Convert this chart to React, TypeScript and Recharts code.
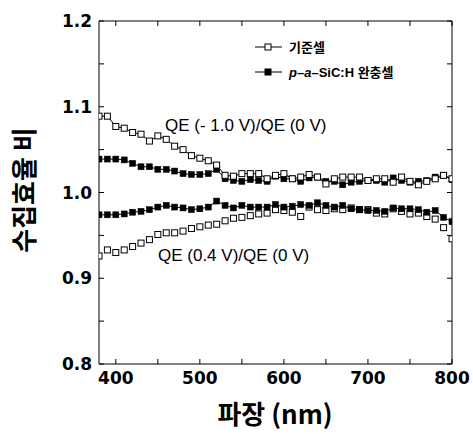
import React from 'react';
import { LineChart, Line, XAxis, YAxis } from 'recharts';

// wavelength grid (nm)
const wavelengths = [
  380, 390, 400, 410, 420, 430, 440, 450, 460, 470, 480, 490, 500, 510, 520,
  530, 540, 550, 560, 570, 580, 590, 600, 610, 620, 630, 640, 650, 660, 670,
  680, 690, 700, 710, 720, 730, 740, 750, 760, 770, 780, 790, 800,
];

// QE(-1.0 V)/QE(0 V), reference cell (open squares)
const refMinus = [
  1.089, 1.089, 1.077, 1.075, 1.070, 1.068, 1.060, 1.066, 1.062, 1.054, 1.050,
  1.043, 1.040, 1.037, 1.032, 1.020, 1.019, 1.022, 1.022, 1.022, 1.016, 1.020,
  1.022, 1.016, 1.018, 1.021, 1.018, 1.010, 1.016, 1.018, 1.018, 1.018, 1.014,
  1.016, 1.016, 1.012, 1.018, 1.013, 1.009, 1.013, 1.016, 1.020, 1.016,
];

// QE(-1.0 V)/QE(0 V), p-a-SiC:H buffer cell (filled squares)
const bufMinus = [
  1.039, 1.039, 1.039, 1.038, 1.034, 1.030, 1.030, 1.027, 1.027, 1.025, 1.022,
  1.021, 1.021, 1.022, 1.027, 1.016, 1.014, 1.013, 1.015, 1.014, 1.013, 1.019,
  1.016, 1.016, 1.013, 1.017, 1.018, 1.013, 1.013, 1.009, 1.012, 1.013, 1.014,
  1.014, 1.012, 1.017, 1.014, 1.012, 1.013, 1.014, 1.018, 1.020, 1.015,
];

// QE(0.4 V)/QE(0 V), p-a-SiC:H buffer cell (filled squares)
const bufPlus = [
  0.974, 0.974, 0.974, 0.975, 0.977, 0.978, 0.980, 0.983, 0.985, 0.983, 0.982,
  0.980, 0.981, 0.983, 0.990, 0.985, 0.982, 0.985, 0.983, 0.983, 0.983, 0.986,
  0.983, 0.984, 0.986, 0.985, 0.988, 0.985, 0.983, 0.985, 0.981, 0.980, 0.979,
  0.979, 0.978, 0.982, 0.981, 0.981, 0.980, 0.977, 0.979, 0.971, 0.966,
];

// QE(0.4 V)/QE(0 V), reference cell (open squares)
const refPlus = [
  0.926, 0.933, 0.930, 0.933, 0.937, 0.941, 0.945, 0.951, 0.953, 0.953, 0.955,
  0.958, 0.960, 0.962, 0.963, 0.967, 0.970, 0.971, 0.973, 0.975, 0.976, 0.980,
  0.979, 0.977, 0.972, 0.983, 0.980, 0.979, 0.981, 0.980, 0.982, 0.980, 0.980,
  0.976, 0.975, 0.981, 0.978, 0.975, 0.976, 0.972, 0.969, 0.959, 0.946,
];

const xTicks = [400, 450, 500, 550, 600, 650, 700, 750, 800];
const yTicks = [0.8, 0.85, 0.9, 0.95, 1.0, 1.05, 1.1, 1.15, 1.2];

const data = wavelengths.map((nm, i) => ({
  nm,
  refMinus: refMinus[i],
  bufMinus: bufMinus[i],
  bufPlus: bufPlus[i],
  refPlus: refPlus[i],
}));

const tickFont = {
  fill: '#000',
  fontSize: 17,
  fontWeight: 'bold' as const,
  fontFamily: 'DejaVu Sans',
};

const fmtX = (v: number) => (v % 100 === 0 ? String(v) : '');
const fmtY = (v: number) =>
  Math.abs(v * 10 - Math.round(v * 10)) < 1e-6 ? v.toFixed(1) : '';
const blank = () => '';

const OpenSquare = (props: any) => {
  const { cx, cy, index, dataKey } = props;
  if (cx == null || cy == null) return <g key={`${dataKey}-${index}`} />;
  return (
    <rect
      key={`${dataKey}-${index}`}
      x={cx - 3}
      y={cy - 3}
      width={6}
      height={6}
      fill="#fff"
      stroke="#000"
      strokeWidth={1}
    />
  );
};

const FilledSquare = (props: any) => {
  const { cx, cy, index, dataKey } = props;
  if (cx == null || cy == null) return <g key={`${dataKey}-${index}`} />;
  return (
    <rect
      key={`${dataKey}-${index}`}
      x={cx - 3}
      y={cy - 3}
      width={6}
      height={6}
      fill="#000"
      stroke="#000"
      strokeWidth={0.5}
    />
  );
};

const labelFont = 'Liberation Sans, Arial, sans-serif';
const koFont = '"Noto Sans CJK KR", sans-serif';

export default function App() {
  return (
    <div
      style={{
        position: 'absolute',
        left: 0,
        top: 0,
        width: 473,
        height: 434,
        background: '#fff',
      }}
    >
      <LineChart
        width={473}
        height={434}
        data={data}
        margin={{ top: 1, right: 1, bottom: 0, left: 0 }}
      >
        <XAxis
          xAxisId="b"
          dataKey="nm"
          type="number"
          domain={[380, 800]}
          ticks={xTicks}
          tickFormatter={fmtX}
          allowDataOverflow
          height={70}
          stroke="#000"
          tickSize={-5}
          tickMargin={13}
          tick={tickFont}
        />
        {/* top and right axes close the frame, ticks only */}
        <XAxis
          xAxisId="t"
          orientation="top"
          dataKey="nm"
          type="number"
          domain={[380, 800]}
          ticks={xTicks}
          tickFormatter={blank}
          allowDataOverflow
          height={20}
          stroke="#000"
          tickSize={-5}
          tickMargin={0}
        />
        <YAxis
          yAxisId="l"
          type="number"
          domain={[0.8, 1.2]}
          ticks={yTicks}
          tickFormatter={fmtY}
          width={99}
          stroke="#000"
          tickSize={-5}
          tickMargin={12}
          tick={tickFont}
        />
        <YAxis
          yAxisId="r"
          orientation="right"
          type="number"
          domain={[0.8, 1.2]}
          ticks={yTicks}
          tickFormatter={blank}
          width={20}
          stroke="#000"
          tickSize={-5}
          tickMargin={0}
        />
        <Line
          xAxisId="t"
          yAxisId="r"
          dataKey="refMinus"
          stroke="none"
          dot={false}
          activeDot={false}
          legendType="none"
          isAnimationActive={false}
        />
        <Line
          xAxisId="b"
          yAxisId="l"
          dataKey="refPlus"
          stroke="none"
          dot={OpenSquare}
          isAnimationActive={false}
        />
        <Line
          xAxisId="b"
          yAxisId="l"
          dataKey="bufPlus"
          stroke="#000"
          strokeWidth={1}
          dot={FilledSquare}
          isAnimationActive={false}
        />
        <Line
          xAxisId="b"
          yAxisId="l"
          dataKey="bufMinus"
          stroke="#000"
          strokeWidth={1}
          dot={FilledSquare}
          isAnimationActive={false}
        />
        <Line
          xAxisId="b"
          yAxisId="l"
          dataKey="refMinus"
          stroke="#000"
          strokeWidth={1}
          dot={OpenSquare}
          isAnimationActive={false}
        />
      </LineChart>

      <svg
        width={473}
        height={434}
        style={{ position: 'absolute', left: 0, top: 0, pointerEvents: 'none' }}
      >
        {/* curve annotations */}
        <text x={165} y={131} fontFamily={labelFont} fontSize={17} fill="#000">
          QE (- 1.0 V)/QE (0 V)
        </text>
        <text x={158} y={261} fontFamily={labelFont} fontSize={17} fill="#000">
          QE (0.4 V)/QE (0 V)
        </text>

        {/* legend */}
        <line x1={255} y1={47} x2={282} y2={47} stroke="#000" strokeWidth={1} />
        <rect x={265} y={44} width={6} height={6} fill="#fff" stroke="#000" />
        <text x={289} y={52} fontFamily={koFont} fontWeight="bold" fontSize={13} fill="#000">
          기준셀
        </text>
        <line x1={255} y1={72} x2={282} y2={72} stroke="#000" strokeWidth={1} />
        <rect x={265} y={69} width={6} height={6} fill="#000" stroke="#000" />
        <text x={289} y={77} fontFamily={koFont} fontWeight="bold" fontSize={13} fill="#000">
          <tspan fontStyle="italic" fontFamily={labelFont}>p</tspan>
          <tspan fontFamily={labelFont}>–</tspan>
          <tspan fontStyle="italic" fontFamily={labelFont}>a</tspan>
          <tspan fontFamily={labelFont}>–SiC:H </tspan>
          <tspan>완충셀</tspan>
        </text>

        {/* axis titles */}
        <text
          x={22}
          y={190}
          transform="rotate(-90 22 190)"
          textAnchor="middle"
          dominantBaseline="central"
          fontFamily={koFont}
          fontWeight="bold"
          fontSize={26}
          fill="#000"
        >
          수집효율 비
        </text>
        <text
          x={275}
          y={412}
          textAnchor="middle"
          dominantBaseline="central"
          fontFamily={koFont}
          fontWeight="bold"
          fontSize={26}
          fill="#000"
        >
          파장 (nm)
        </text>
      </svg>
    </div>
  );
}
